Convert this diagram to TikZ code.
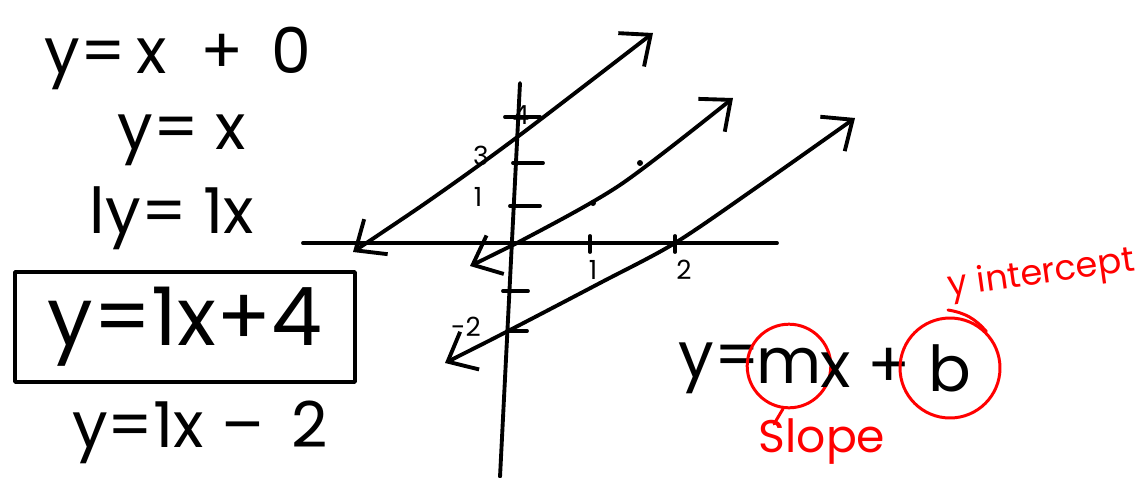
\documentclass[tikz,border=0pt]{standalone}
\usepackage{fontspec}
\setmainfont{Poppins}
\usetikzlibrary{arrows.meta}
\begin{document}
\begin{tikzpicture}[x=0.02cm,y=-0.02cm,line width=2.2pt,line cap=round,line join=round,
  big/.style={font=\fontsize{36}{40}\selectfont},
  huge/.style={font=\fontsize{46}{50}\selectfont},
  lbl/.style={font=\fontsize{15}{16}\selectfont},
  redpen/.style={red,line width=1.7pt},
  redtext/.style={red,font=\fontsize{26}{28}\selectfont},
  twoway/.style={{Straight Barb[length=14pt,width=24pt]}-{Straight Barb[length=14pt,width=24pt]}}]
\useasboundingbox (0,0) rectangle (1146,477);

% equations on the left
\node[big] (eqzero) at (178,58) {y=\,x \ +\ \,0};
\node[big] (eqx) at (182,140) {y= x};
\node[big] (eqone) at (172,218) {ly= 1x};
\node[huge,draw,minimum width=6.8cm,minimum height=2.2cm] (eqplus) at (185,327) {y=1x+4};
\node[big] (eqminus) at (200,432) {y=1x\ – \,2};

% axes
\draw (303,243) -- (777,243);
\draw (520,83) -- (500,477);

% ticks
\draw (505,117) -- (540,117);
\draw (513,163) -- (543,163);
\draw (510,206) -- (540,206);
\draw (503,291) -- (528,291);
\draw (507,331) -- (527,331);
\draw (590,236) -- (590,252);
\draw (675,236) -- (675,252);

\node[lbl] (yfour) at (521,115) {4};
\node[lbl] (ythree) at (481,156) {3};
\node[lbl] (yone) at (478,197) {1};
\node[lbl] (ymtwo) at (466,327) {-2};
\node[lbl] (xone) at (593,270) {1};
\node[lbl] (xtwo) at (684,270) {2};

% the three lines
\draw[twoway] plot[smooth] coordinates {(353,252) (440,193) (520,135) (653,33)};
\draw[twoway] plot[smooth] coordinates {(470,266) (517,243) (620,185) (733,98)};
\draw[twoway] plot[smooth] coordinates {(445,363) (510,330) (600,283) (675,243) (760,185) (855,118)};

\fill (593,203) circle (3);
\fill (640,163) circle (3);

% general form
\node[big,anchor=east] (gy) at (768,368) {y=};
\node[big,circle,draw=red,line width=1.7pt,inner sep=2pt,minimum size=1.2cm] (gm) at (789,366) {m};
\node[big,anchor=west] (gx) at (813,368) {x +};
\node[big,circle,draw=red,line width=1.7pt,minimum size=2cm] (gb) at (950,368) {b};

\node[redtext] (slope) at (822,442) {Slope};
\coordinate (stail) at (774,424);
\draw[redpen] (gm.262) -- (stail);
\node[red,font=\fontsize{20}{22}\selectfont,anchor=south west,rotate=8,inner sep=1pt] (yint) at (948,310) {y intercept};
\draw[redpen] (gb.north east) to[bend right=20] (yint.south west);
\end{tikzpicture}
\end{document}
